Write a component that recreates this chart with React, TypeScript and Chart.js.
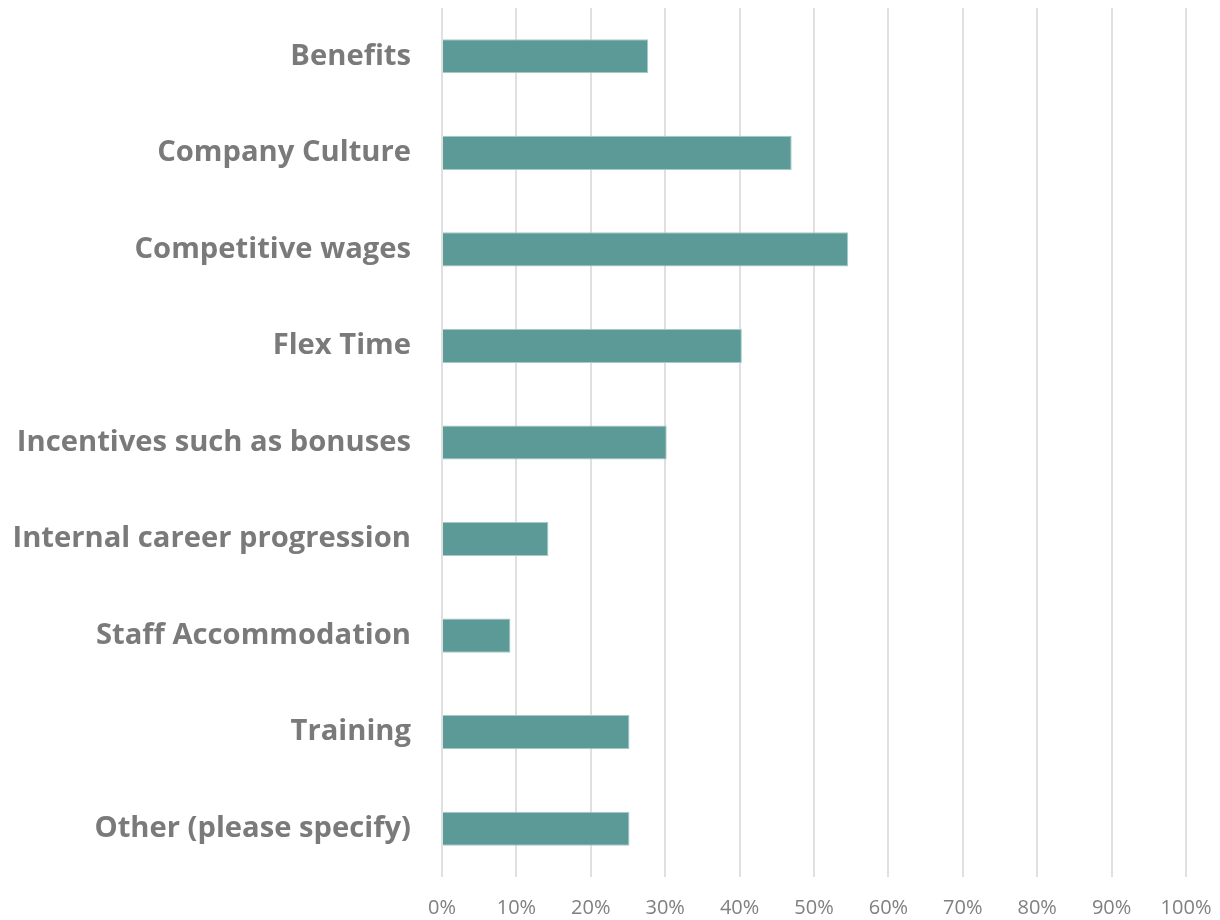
import React, { useEffect, useRef } from "react";
import { Chart, registerables } from "chart.js";

Chart.register(...registerables);

const categories = [
  "Benefits",
  "Company Culture",
  "Competitive wages",
  "Flex Time",
  "Incentives such as bonuses",
  "Internal career progression",
  "Staff Accommodation",
  "Training",
  "Other (please specify)",
];

const values = [27.7, 47.0, 54.6, 40.3, 30.2, 14.3, 9.2, 25.2, 25.2];

const xTicks = [0, 10, 20, 30, 40, 50, 60, 70, 80, 90, 100];

export default function App() {
  const ref = useRef<HTMLCanvasElement | null>(null);

  useEffect(() => {
    document.body.style.margin = "0";
    const canvas = ref.current;
    if (!canvas) return;
    const chart = new Chart(canvas, {
      type: "bar",
      data: {
        labels: categories,
        datasets: [
          {
            data: values,
            backgroundColor: "#5b9a97",
            borderColor: "#a6cac8",
            borderWidth: 1,
            categoryPercentage: 1,
            barPercentage: 0.353,
          },
        ],
      },
      options: {
        indexAxis: "y",
        animation: false,
        responsive: false,
        maintainAspectRatio: false,
        layout: { padding: { top: 8, right: 34, left: 0, bottom: 0 } },
        plugins: {
          legend: { display: false },
          tooltip: { enabled: false },
          title: { display: false },
        },
        scales: {
          x: {
            min: 0,
            max: 100,
            afterBuildTicks: (scale: any) => {
              scale.ticks = xTicks.map((v) => ({ value: v }));
            },
            afterFit: (scale: any) => {
              scale.height = 43;
              scale.paddingLeft = 0;
              scale.paddingRight = 0;
            },
            grid: {
              color: "#e0e0e0",
              lineWidth: 2,
              drawTicks: false,
            },
            border: { display: false },
            ticks: {
              padding: 19,
              color: "#808080",
              font: { family: "'Open Sans'", size: 20 },
              callback: (v: any) => v + "%",
            },
          },
          y: {
            afterFit: (scale: any) => {
              scale.width = 442;
              scale.paddingTop = 0;
              scale.paddingBottom = 0;
            },
            grid: { display: false, drawTicks: false },
            border: { display: false },
            ticks: {
              padding: 31,
              color: "#7a7a7a",
              font: { family: "'Open Sans'", size: 29.2, weight: "bold" },
            },
          },
        },
      },
    });
    return () => chart.destroy();
  }, []);

  return (
    <div style={{ width: 1220, height: 920, position: "relative" }}>
      <canvas ref={ref} width={1220} height={920} style={{ display: "block" }} />
    </div>
  );
}
